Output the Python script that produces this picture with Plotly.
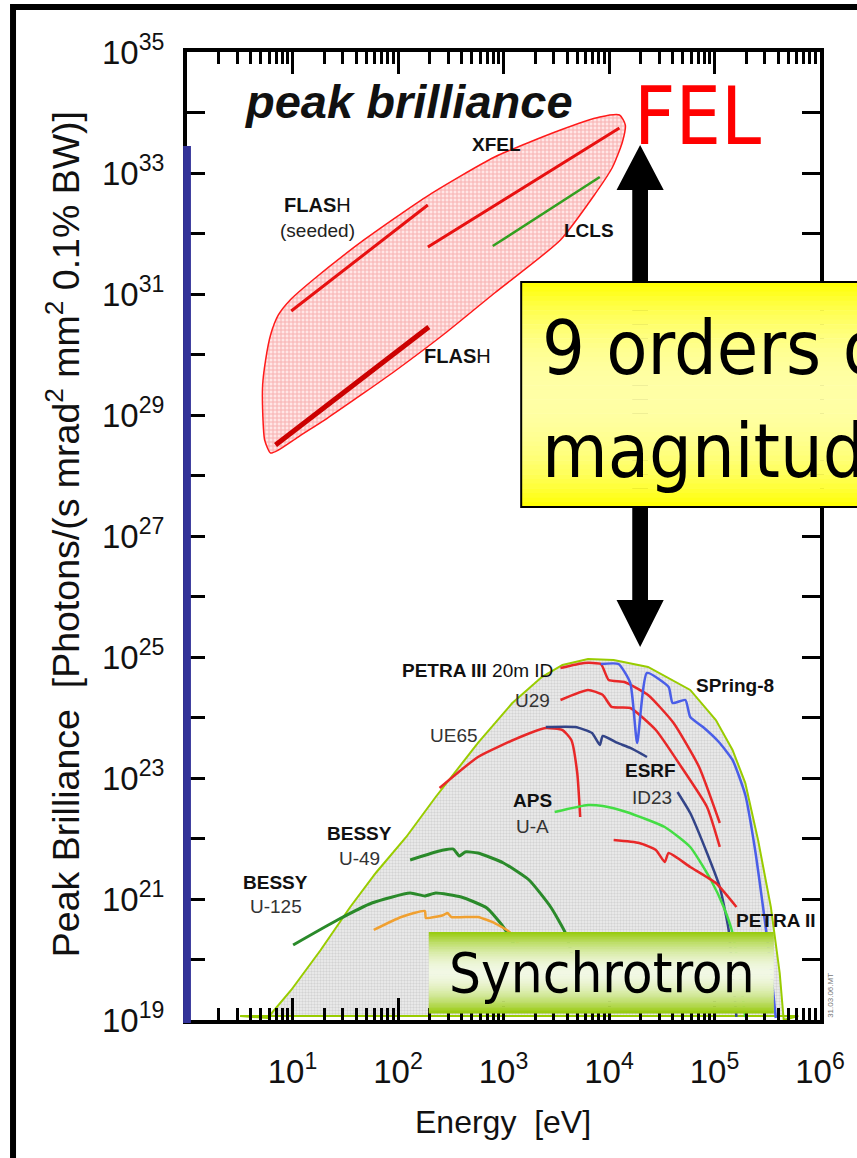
import numpy as np
import plotly.graph_objects as go

# ---------------- data: log10(Energy / eV), log10(Peak brilliance) ----------------
fel_env_logE = [0.792, 0.736, 0.717, 0.717, 0.745, 0.792, 0.866, 0.978, 1.193, 1.677, 2.264, 2.916,
                3.540, 3.913, 4.099, 4.155, 4.127, 4.034, 3.848, 3.540, 2.916, 2.450, 1.985, 1.677,
                1.332, 1.053, 0.866, 0.792]
fel_env_logB = [28.372, 28.587, 29.083, 29.496, 29.909, 30.322, 30.653, 30.901, 31.231, 31.893, 32.603, 33.264,
                33.711, 33.926, 33.959, 33.793, 33.512, 33.099, 32.603, 31.893, 31.017, 30.355, 29.744, 29.364,
                28.950, 28.636, 28.421, 28.372]

flash_seeded_logE = [0.988, 2.283]
flash_seeded_logB = [30.719, 32.471]
xfel_logE = [2.283, 4.099]
xfel_logB = [31.777, 33.744]
lcls_logE = [2.898, 3.913]
lcls_logB = [31.793, 32.934]
flash_logE = [0.839, 2.292]
flash_logB = [28.504, 30.455]

sync_env_logE = [0.503, 0.764, 0.988, 1.267, 1.547, 1.789, 2.078, 2.357, 2.758, 3.084, 3.363, 3.559, 3.801,
                 4.044, 4.370, 4.770, 5.013, 5.171, 5.292, 5.413, 5.534, 5.618, 5.656, 5.795, 0.503]
sync_env_logB = [19.066, 19.033, 19.496, 20.157, 20.868, 21.430, 22.025, 22.686, 23.579, 24.240, 24.669, 24.868, 24.967,
                 24.950, 24.835, 24.455, 23.959, 23.463, 22.917, 21.975, 20.868, 19.777, 19.0, 19.066, 19.066]

bessy_u125_logE = [1.006, 1.426, 1.752, 2.115, 2.255, 2.357, 2.599, 2.842, 3.000, 3.103]
bessy_u125_logB = [20.240, 20.653, 20.934, 21.099, 21.050, 21.099, 21.033, 20.851, 20.537, 20.240]

bessy_u49_logE = [2.115, 2.357, 2.432, 2.525, 2.581, 2.637, 2.758, 3.000, 3.242, 3.447, 3.587, 3.662]
bessy_u49_logB = [21.645, 21.777, 21.810, 21.826, 21.711, 21.777, 21.760, 21.595, 21.314, 20.868, 20.438, 19.992]

orange_logE = [1.770, 2.031, 2.255, 2.264, 2.432, 2.469, 2.506, 2.758, 2.916, 3.056, 3.149]
orange_logB = [20.488, 20.702, 20.802, 20.686, 20.736, 20.769, 20.702, 20.702, 20.603, 20.455, 20.240]

ue65_logE = [2.394, 2.758, 3.159, 3.401, 3.559, 3.643, 3.699, 3.727]
ue65_logB = [22.835, 23.347, 23.678, 23.826, 23.793, 23.628, 23.083, 22.355]

esrf_a_logE = [3.401, 3.680, 3.839, 3.913, 3.941, 4.081, 4.202, 4.360]
esrf_a_logB = [23.843, 23.843, 23.744, 23.545, 23.694, 23.579, 23.496, 23.347]
esrf_b_logE = [4.649, 4.770, 4.929, 5.050, 5.134, 5.171, 5.208]
esrf_b_logB = [22.769, 22.421, 21.760, 21.198, 20.488, 19.777, 19.050]

petra3_logE = [3.540, 3.764, 3.923, 3.997, 4.146, 4.370, 4.612, 4.854, 5.050]
petra3_logB = [24.818, 24.901, 24.884, 24.620, 24.587, 24.372, 23.909, 23.182, 22.256]

u29_logE = [3.540, 3.801, 3.941, 4.025, 4.202, 4.444, 4.686, 4.929, 5.050]
u29_logB = [24.289, 24.455, 24.372, 24.174, 24.157, 23.793, 23.182, 22.521, 21.860]

spring8_logE = [3.923, 4.090, 4.202, 4.267, 4.360, 4.565, 4.603, 4.724, 4.770, 4.891, 5.041, 5.171,
                5.292, 5.385, 5.460, 5.525, 5.581]
spring8_logB = [24.884, 24.884, 24.570, 23.579, 24.736, 24.504, 24.240, 24.289, 24.008, 23.843, 23.595, 23.298,
                22.719, 21.810, 20.868, 19.992, 19.033]

aps_logE = [3.485, 3.801, 3.941, 4.165, 4.528, 4.770, 4.966, 5.087, 5.171, 5.246, 5.292]
aps_logB = [22.438, 22.554, 22.537, 22.438, 22.190, 21.860, 21.314, 20.868, 20.438, 19.661, 19.050]

petra2_logE = [4.044, 4.286, 4.444, 4.528, 4.565, 4.770, 5.013, 5.208]
petra2_logB = [21.975, 21.926, 21.810, 21.612, 21.760, 21.529, 21.264, 20.868]

x_label_exp = [1, 2, 3, 4, 5, 6]
y_label_exp = [19, 21, 23, 25, 27, 29, 31, 33, 35]
y_unlabelled_exp = [20, 22, 24, 26, 28, 30, 32, 34]

# ---------------- layout geometry (pixels) ----------------
L, T, W, H = 187, 52, 644, 968
FIG_W, FIG_H = 857, 1158


def px(x):
    return (x - L) / W


def py(y):
    return (T + H - y) / H


ARIAL = "Liberation Sans, Arial, sans-serif"
NARROW = "DejaVu Sans Condensed, Liberation Sans Narrow, Arial Narrow, sans-serif"


def lin(v):
    return [10.0 ** a for a in v]


fig = go.Figure()

# synchrotron envelope
fig.add_trace(go.Scatter(
    x=lin(sync_env_logE), y=lin(sync_env_logB), mode="lines", fill="toself",
    line=dict(color="#99cc00", width=2),
    fillcolor="#e6e6e6",
    fillpattern=dict(shape=".", fgcolor="#b8b8b8", bgcolor="#efefef", size=3, solidity=0.5),
    hoverinfo="skip", showlegend=False))

# FEL envelope
fig.add_trace(go.Scatter(
    x=lin(fel_env_logE), y=lin(fel_env_logB), mode="lines", fill="toself",
    line=dict(color="#ff1a1a", width=1.5, shape="spline", smoothing=0.6),
    fillcolor="#f8c0c0",
    fillpattern=dict(shape="+", fgcolor="#f07a7a", bgcolor="#ffe6e6", size=4, solidity=0.45),
    hoverinfo="skip", showlegend=False))


def add_line(xs, ys, color, width, shape="spline"):
    fig.add_trace(go.Scatter(x=lin(xs), y=lin(ys), mode="lines",
                             line=dict(color=color, width=width, shape=shape, smoothing=0.5),
                             hoverinfo="skip", showlegend=False))


add_line(flash_seeded_logE, flash_seeded_logB, "#e81010", 3, "linear")
add_line(xfel_logE, xfel_logB, "#e81010", 3, "linear")
add_line(lcls_logE, lcls_logB, "#33a020", 2.5, "linear")
add_line(flash_logE, flash_logB, "#cc0000", 5, "linear")

add_line(bessy_u125_logE, bessy_u125_logB, "#2a8a2a", 3)
add_line(orange_logE, orange_logB, "#f0a030", 2.5)
add_line(bessy_u49_logE, bessy_u49_logB, "#2a8a2a", 3)
add_line(ue65_logE, ue65_logB, "#e82828", 2.5)
add_line(esrf_a_logE, esrf_a_logB, "#334488", 2.5)
add_line(esrf_b_logE, esrf_b_logB, "#334488", 2.5)
add_line(petra3_logE, petra3_logB, "#e82828", 2.5)
add_line(u29_logE, u29_logB, "#e82828", 2.5)
add_line(spring8_logE, spring8_logB, "#4a5ee8", 2.5)
add_line(aps_logE, aps_logB, "#44dd44", 2.5)
add_line(petra2_logE, petra2_logB, "#e82828", 2.5)

# ---------------- shapes ----------------
shapes = []
# outer frame
shapes.append(dict(type="rect", xref="paper", yref="paper", x0=px(10), x1=px(950), y0=py(1300), y1=py(7),
                   line=dict(color="black", width=6), fillcolor="rgba(0,0,0,0)", layer="below"))
# blue bar on left axis
shapes.append(dict(type="rect", xref="paper", yref="paper", x0=px(183), x1=px(191), y0=py(1023), y1=py(146),
                   line=dict(width=0), fillcolor="#333399", layer="above"))

# double arrow
arrow_px = [(648, 145), (672, 190), (656, 190), (656, 600), (672, 600), (648, 647), (624, 600),
            (640, 600), (640, 190), (624, 190)]
path = "M " + " L ".join(f"{px(a):.5f},{py(b):.5f}" for a, b in arrow_px) + " Z"
shapes.append(dict(type="path", xref="paper", yref="paper", path=path, fillcolor="black",
                   line=dict(width=0), layer="above"))


def gradient(x0, x1, y0, y1, edge, center, expo, n=48):
    h = (y1 - y0) / n
    for i in range(n):
        t = (i + 0.5) / n
        s = 1 - abs(2 * t - 1) ** expo
        c = [int(round(e + (m - e) * s)) for e, m in zip(edge, center)]
        shapes.append(dict(type="rect", xref="paper", yref="paper",
                           x0=px(x0), x1=px(x1), y0=py(y0 + (i + 1) * h + 0.6), y1=py(y0 + i * h),
                           line=dict(width=0), fillcolor=f"rgb({c[0]},{c[1]},{c[2]})", layer="above"))


# yellow box
gradient(527, 950, 282, 507, (255, 255, 0), (255, 255, 165), 2.2)
shapes.append(dict(type="rect", xref="paper", yref="paper", x0=px(527), x1=px(950), y0=py(507), y1=py(282),
                   line=dict(color="black", width=2), fillcolor="rgba(0,0,0,0)", layer="above"))
# synchrotron box
gradient(433, 784, 932, 1013, (150, 202, 10), (242, 248, 228), 1.8)

# ---------------- annotations ----------------
ann = []


def label(text, x, y, size=19, color="#111111", family=ARIAL, xanchor="center", angle=0):
    ann.append(dict(text=text, x=px(x), y=py(y), xref="paper", yref="paper", showarrow=False,
                    xanchor=xanchor, yanchor="middle", textangle=angle,
                    font=dict(size=size, color=color, family=family)))


label("<b><i>peak brilliance</i></b>", 243, 101, size=47, xanchor="left")
label("<b>FLAS</b>H", 320, 205, size=20)
label("(seeded)", 320, 231, size=19, color="#222222")
label("<b>XFEL</b>", 502, 144, size=19)
label("<b>LCLS</b>", 596, 230, size=19)
label("<b>FLAS</b>H", 462, 356, size=20)

label("<b>PETRA III</b> 20m ID", 483, 670, size=19)
label("U29", 539, 700, size=19, color="#333333")
label("UE65", 459, 735, size=19, color="#333333")
label("<b>SPring-8</b>", 745, 685, size=19)
label("<b>ESRF</b>", 659, 770, size=19)
label("ID23", 660, 797, size=19, color="#333333")
label("<b>APS</b>", 538, 800, size=19)
label("U-A", 538, 826, size=19, color="#333333")
label("<b>BESSY</b>", 362, 833, size=19)
label("U-49", 363, 858, size=19, color="#333333")
label("<b>BESSY</b>", 277, 882, size=19)
label("U-125", 278, 906, size=19, color="#333333")
label("<b>PETRA II</b>", 829, 920, size=19, xanchor="right")

label("FEL", 706, 116, size=80, color="#ff0000", family=NARROW)
label("9 orders of", 546, 348, size=75, color="black", family=NARROW, xanchor="left")
label("magnitude", 546, 451, size=75, color="black", family=NARROW, xanchor="left")
label("Synchrotron", 609, 972, size=56, color="black", family=NARROW)
label("31.03.06.MT", 841, 995, size=8, color="#777777", angle=-90)

label("Peak Brilliance\u00a0 [Photons/(s mrad<sup>2</sup> mm<sup>2</sup> 0.1% BW)]", 61, 534, size=37.5,
      color="#111111", angle=-90)
label("Energy\u00a0 [eV]", 508, 1122, size=32, color="#111111")

# ---------------- axes ----------------
x_minor = [m * 10.0 ** d for d in range(0, 6) for m in range(2, 10)]
fig.update_layout(
    width=FIG_W, height=FIG_H,
    margin=dict(l=L, r=FIG_W - L - W, t=T, b=FIG_H - T - H, pad=0),
    paper_bgcolor="white", plot_bgcolor="white",
    shapes=shapes, annotations=ann, showlegend=False,
    xaxis=dict(type="log", range=[0, 6], tickmode="array",
               tickvals=[10.0 ** e for e in x_label_exp],
               ticktext=[f"10<sup>{e}</sup>" for e in x_label_exp],
               ticks="inside", ticklen=22, tickwidth=3, tickcolor="black",
               showline=True, linewidth=4, linecolor="black", mirror="allticks",
               showgrid=False, zeroline=False, ticklabelstandoff=19,
               tickfont=dict(size=33, color="#111111", family=ARIAL),
               minor=dict(tickmode="array", tickvals=x_minor, ticks="inside", ticklen=12,
                          tickwidth=3, tickcolor="black", showgrid=False)),
    yaxis=dict(type="log", range=[19, 35], tickmode="array",
               tickvals=[10.0 ** e for e in y_label_exp],
               ticktext=[f"10<sup>{e}</sup>" for e in y_label_exp],
               ticks="inside", ticklen=18, tickwidth=3, tickcolor="black",
               showline=True, linewidth=4, linecolor="black", mirror="allticks",
               showgrid=False, zeroline=False, ticklabelstandoff=12,
               tickfont=dict(size=33, color="#111111", family=ARIAL),
               minor=dict(tickmode="array", tickvals=[10.0 ** e for e in y_unlabelled_exp],
                          ticks="inside", ticklen=18, tickwidth=3, tickcolor="black", showgrid=False)),
)

fig.write_html("out.html")
